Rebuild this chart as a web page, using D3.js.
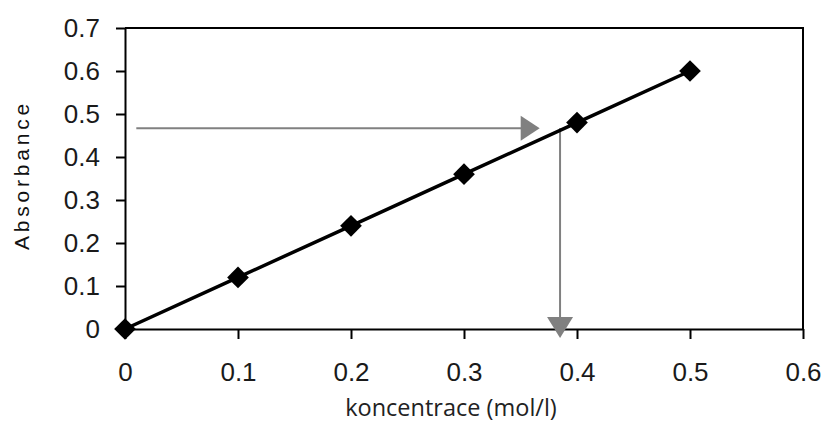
<!DOCTYPE html>
<html>
<head>
<meta charset="utf-8">
<script src="https://cdn.jsdelivr.net/npm/d3@7"></script>
<style>
  body { margin: 0; background: #fff; }
  .tick text { font-family: 'Liberation Sans', Arial, sans-serif; }
</style>
</head>
<body>
<svg id="chart"></svg>
<script>
// data
var concentrations = [0, 0.1, 0.2, 0.3, 0.4, 0.5];
var absorbances = [0, 0.12, 0.24, 0.36, 0.48, 0.6];
var xTicks = [0, 0.1, 0.2, 0.3, 0.4, 0.5, 0.6];
var yTicks = [0, 0.1, 0.2, 0.3, 0.4, 0.5, 0.6, 0.7];
// reading arrow: from the measured absorbance across to the line, then down
var arrowAbs = [0.467];
var arrowStartConc = [0.01];
var arrowTipConc = [0.367];
var arrowConc = [0.385];
var arrowTipAbs = [-0.021];

var width = 827, height = 432;
var plot = {left: 125, right: 803, top: 28, bottom: 329};
var color_arrow = '#808080';

var svg = d3.select('#chart')
    .attr('width', width)
    .attr('height', height);

var x = d3.scaleLinear().domain([0, 0.6]).range([plot.left, plot.right]);
var y = d3.scaleLinear().domain([0, 0.7]).range([plot.bottom, plot.top]);

// frame top + right
svg.append('path')
    .attr('d', 'M' + x(0) + ',' + y(0.7) + 'H' + x(0.6) + 'V' + y(0))
    .attr('fill', 'none')
    .attr('stroke', '#000')
    .attr('stroke-width', 2);

var fmt = function(d) { return d === 0 ? '0' : d3.format('.1f')(d); };

var gx = svg.append('g')
    .attr('transform', 'translate(0,' + plot.bottom + ')')
    .call(d3.axisBottom(x).tickValues(xTicks).tickFormat(fmt).tickSize(10).tickSizeOuter(0).tickPadding(23));
var gy = svg.append('g')
    .attr('transform', 'translate(' + plot.left + ',0)')
    .call(d3.axisLeft(y).tickValues(yTicks).tickFormat(fmt).tickSize(9).tickSizeOuter(0).tickPadding(16));

[gx, gy].forEach(function(g) {
    g.select('.domain').attr('stroke-width', 2);
    g.selectAll('.tick line').attr('stroke-width', 2);
    g.selectAll('.tick text')
        .attr('font-size', 26)
        .attr('fill', '#1a1a1a');
});
gx.selectAll('.tick text').attr('dy', '0.35em').attr('y', 43);

// gray reading arrows
var gA = svg.append('g').attr('fill', color_arrow).attr('stroke', color_arrow);
var ay = y(arrowAbs[0]);
gA.append('line')
    .attr('x1', x(arrowStartConc[0])).attr('y1', ay)
    .attr('x2', x(arrowTipConc[0]) - 15).attr('y2', ay)
    .attr('stroke-width', 2);
gA.append('path')
    .attr('stroke', 'none')
    .attr('d', 'M' + x(arrowTipConc[0]) + ',' + ay +
        'l-19,-12.5v25z');
var ax = x(arrowConc[0]);
gA.append('line')
    .attr('x1', ax).attr('y1', ay)
    .attr('x2', ax).attr('y2', y(arrowTipAbs[0]) - 15)
    .attr('stroke-width', 2);
gA.append('path')
    .attr('stroke', 'none')
    .attr('d', 'M' + ax + ',' + y(arrowTipAbs[0]) +
        'l-13,-21h26z');

// calibration line
var pts = concentrations.map(function(c, i) { return [c, absorbances[i]]; });
svg.append('path')
    .datum(pts)
    .attr('fill', 'none')
    .attr('stroke', '#000')
    .attr('stroke-width', 3.5)
    .attr('d', d3.line().x(function(d) { return x(d[0]); }).y(function(d) { return y(d[1]); }));

svg.selectAll('.marker')
    .data(pts)
    .enter().append('path')
    .attr('class', 'marker')
    .attr('transform', function(d) { return 'translate(' + x(d[0]) + ',' + y(d[1]) + ')'; })
    .attr('d', d3.symbol(d3.symbolDiamond2, 300))
    .attr('fill', '#000');

// axis titles
svg.append('text')
    .attr('transform', 'translate(29,175) rotate(-90)')
    .attr('text-anchor', 'middle')
    .attr('font-family', "'Liberation Sans', Arial, sans-serif")
    .attr('font-size', 21)
    .attr('letter-spacing', 3.8)
    .attr('fill', '#111')
    .text('Absorbance');

svg.append('text')
    .attr('x', 451)
    .attr('y', 416)
    .attr('text-anchor', 'middle')
    .attr('font-family', "'Open Sans', sans-serif")
    .attr('font-size', 23.5)
    .attr('fill', '#222')
    .text('koncentrace (mol/l)');
</script>
</body>
</html>
